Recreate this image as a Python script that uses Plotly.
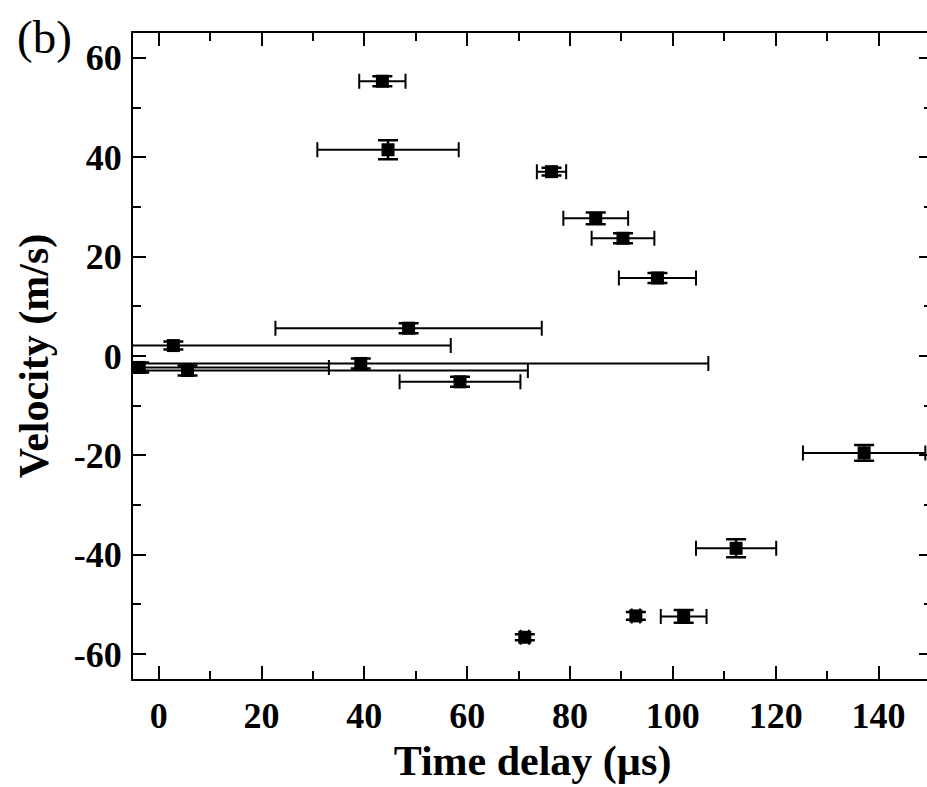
import plotly.graph_objects as go

# Data
time_delay = [43.5, 44.6, 76.4, 85.0, 90.3, 97.0, 48.6, 2.85, -3.8, 39.3, 5.6, 58.6, 137.2, 112.3, 102.1, 92.8, 71.2]
velocity = [55.3, 41.5, 37.1, 27.7, 23.7, 15.7, 5.6, 2.1, -2.3, -1.5, -2.9, -5.2, -19.5, -38.7, -52.4, -52.3, -56.6]
time_err = [4.5, 13.75, 2.85, 6.3, 6.1, 7.5, 25.9, 53.95, 36.9, 67.6, 66.2, 11.75, 11.9, 7.8, 4.45, 0.8, 0.8]
vel_err = [1.0, 1.9, 0.8, 1.2, 1.0, 1.0, 1.0, 0.8, 1.0, 1.0, 1.0, 1.0, 1.6, 1.8, 1.3, 0.8, 0.6]

x_ticks = [0, 20, 40, 60, 80, 100, 120, 140]
y_ticks = [-60, -40, -20, 0, 20, 40, 60]

FONT = "Liberation Serif"
# the right frame of the original lies just beyond the visible 927 px
W, H = 934, 787
ML, MR, MT, MB = 133, 0, 33, 108
PW, PH = W - ML - MR, H - MT - MB

fig = go.Figure()
fig.add_trace(go.Scatter(
    x=time_delay, y=velocity, mode="markers",
    marker=dict(symbol="square", size=13, color="black"),
    error_x=dict(type="data", array=time_err, visible=True, color="black", thickness=2, width=7.5),
    error_y=dict(type="data", array=vel_err, visible=True, color="black", thickness=2.5, width=10),
    showlegend=False,
))

axis_common = dict(
    showline=True, linecolor="black", linewidth=2, mirror="ticks",
    ticks="inside", ticklen=13, tickwidth=2, tickcolor="black",
    showgrid=False, zeroline=False,
    tickfont=dict(family=FONT, size=36, color="black", weight="bold"),
    minor=dict(ticks="inside", ticklen=8, tickwidth=2, tickcolor="black", dtick=10, showgrid=False),
)

fig.update_xaxes(
    range=[-5, 150.4], tickvals=x_ticks, ticktext=[str(v) for v in x_ticks],
    title=dict(text="Time delay (µs)", font=dict(family=FONT, size=42, color="black", weight="bold"), standoff=10),
    ticklabelstandoff=4,
    **axis_common,
)
fig.update_yaxes(
    range=[-65, 65], tickvals=y_ticks, ticktext=[str(v) for v in y_ticks],
    title=dict(text="Velocity (m/s)", font=dict(family=FONT, size=42, color="black", weight="bold"), standoff=12),
    ticklabelstandoff=2,
    **axis_common,
)

fig.add_annotation(
    text="(b)", xref="paper", yref="paper",
    x=(44 - ML) / PW, y=1 + (MT - 37) / PH,
    xanchor="center", yanchor="middle", showarrow=False,
    font=dict(family=FONT, size=47, color="black"),
)

fig.update_layout(
    width=W, height=H,
    margin=dict(l=ML, r=MR, t=MT, b=MB),
    plot_bgcolor="white", paper_bgcolor="white",
)

fig.write_html(
    "out.html",
    config={"displayModeBar": False},
    post_script="document.body.style.margin='0';document.body.style.overflow='hidden';",
)
